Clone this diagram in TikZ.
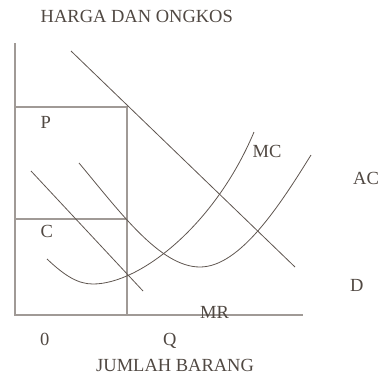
\documentclass[tikz,border=0pt]{standalone}
\usepackage{fontspec}
\setmainfont{Liberation Serif}
\begin{document}
\begin{tikzpicture}[x=1pt,y=-1pt,
  axis/.style={draw=axcol,line width=1.1pt},
  curve/.style={draw=cvcol,line width=0.8pt},
  lbl/.style={text=txcol,inner sep=0pt,anchor=base west,font=\fontsize{18.5}{21}\selectfont}]
\definecolor{axcol}{RGB}{160,154,150}
\definecolor{cvcol}{RGB}{95,86,80}
\definecolor{txcol}{RGB}{80,72,66}
\useasboundingbox (0,0) rectangle (380,375);
% axes and guide lines
\coordinate (O) at (15,315);
\coordinate (Ytop) at (15,43);
\coordinate (Xend) at (303,315);
\coordinate (Pl) at (15,107);
\coordinate (Pr) at (127,107);
\coordinate (Cl) at (15,219);
\coordinate (Cr) at (127,219);
\coordinate (Qb) at (127,315);
\draw[axis] (Ytop) -- (O) -- (Xend);
\draw[axis] (Pl) -- (Pr) -- (Qb);
\draw[axis] (Cl) -- (Cr);
% demand
\coordinate (D1) at (71,51);
\coordinate (D2) at (295,267);
\draw[curve] (D1) -- (D2);
% marginal revenue
\coordinate (M1) at (31,171);
\coordinate (M2) at (143,291);
\draw[curve] (M1) -- (M2);
% AC
\coordinate (A1) at (79,163);
\coordinate (Amin) at (200,267);
\coordinate (A2) at (311,155);
\draw[curve] (A1) .. controls (120,212) and (160,267) .. (Amin)
  .. controls (240,267) and (280,205) .. (A2);
% MC
\coordinate (C1) at (47,259);
\coordinate (Cmin) at (93,284);
\coordinate (C2) at (254,132);
\draw[curve] (C1) .. controls (65,276) and (78,284) .. (Cmin)
  .. controls (140,284) and (215,225) .. (C2);
% labels
\node[lbl] (title) at (40.5,22) {HARGA DAN ONGKOS};
\node[lbl] (P) at (40.5,128.5) {P};
\node[lbl] (C) at (40.5,237.5) {C};
\node[lbl] (MC) at (252.5,157) {MC};
\node[lbl] (AC) at (353,184) {AC};
\node[lbl] (D) at (350,291) {D};
\node[lbl] (MR) at (200,318.5) {MR};
\node[lbl] (zero) at (40,345) {0};
\node[lbl] (Q) at (163,345) {Q};
\node[lbl] (xl) at (96,371) {JUMLAH BARANG};
\end{tikzpicture}
\end{document}
